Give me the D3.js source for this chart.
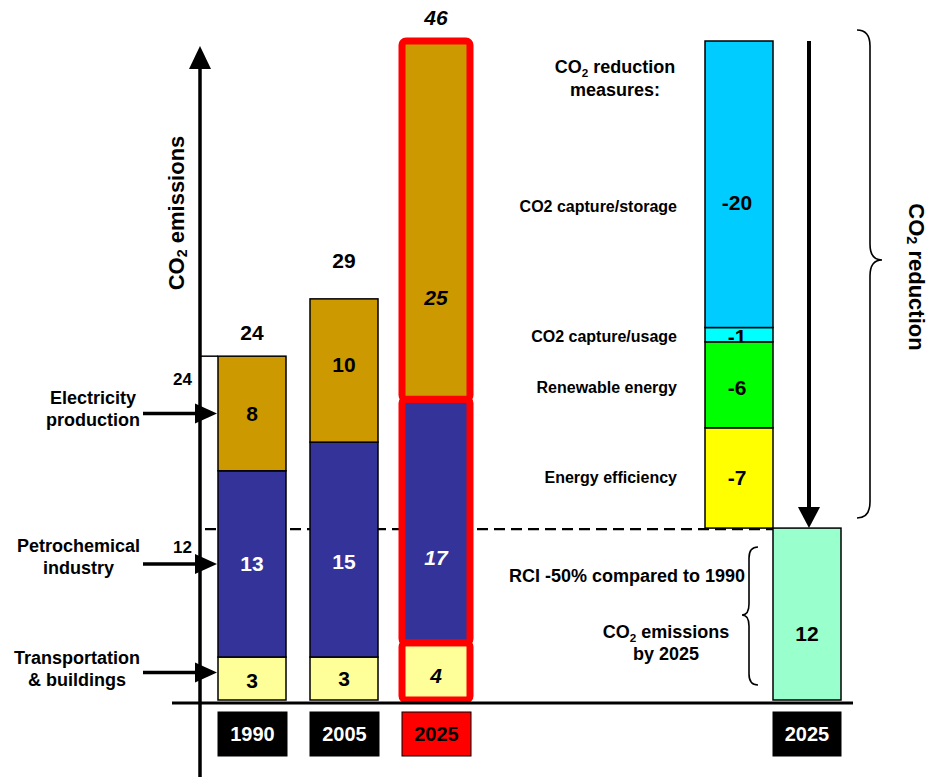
<!DOCTYPE html>
<html>
<head>
<meta charset="utf-8">
<script src="https://cdn.jsdelivr.net/npm/d3@7"></script>
<style>
  body { margin: 0; background: #fff; }
  svg { display: block; font-family: "Liberation Sans", Arial, Helvetica, sans-serif; font-weight: bold; }
</style>
</head>
<body>
<svg id="chart" width="928" height="777"></svg>
<script>
// ---- data ----
const years = ["1990", "2005", "2025"];
const transport = [3, 3, 4];
const petrochemical = [13, 15, 17];
const electricity = [8, 10, 25];
const totals = [24, 29, 46];
const sectorNames = ["Transportation & buildings", "Petrochemical industry", "Electricity production"];
const measureNames = ["Energy efficiency", "Renewable energy", "CO2 capture/usage", "CO2 capture/storage"];
const reductions = [-7, -6, -1, -20];
const target2025 = 12;
const targetYear = "2025";
const yTicks = [12, 24];

// ---- layout ----
const svg = d3.select("#chart");
const y = d3.scaleLinear().domain([0, 46]).range([700, 41]);
const x = d3.scaleBand().domain(years).range([206, 482]).paddingInner(24 / 92).paddingOuter(12 / 92);
const xr = d3.scaleBand().domain(["measures", "target"]).range([705, 841]).padding(0);
const axisX = 200;
const highlightYear = "2025";

const keys = ["transport", "petrochemical", "electricity"];
const fills = { transport: "#FFFF99", petrochemical: "#333399", electricity: "#CC9900" };
const inkColor = { transport: "#000", petrochemical: "#fff", electricity: "#000" };
const measureFills = ["#FFFF00", "#00FF00", "#00FFFF", "#00CCFF"];

const table = years.map((yr, i) => ({
  year: yr, transport: transport[i], petrochemical: petrochemical[i], electricity: electricity[i]
}));
const series = d3.stack().keys(keys)(table);

// helper: "CO2" with a subscript 2
function co2Text(sel, rest, fs) {
  sel.append("tspan").text("CO");
  sel.append("tspan").attr("font-size", fs * 0.65).attr("dy", fs * 0.25).text("2");
  sel.append("tspan").attr("dy", -fs * 0.25).text(rest);
  return sel;
}

// dashed target level (behind the bars)
svg.append("line")
  .attr("x1", axisX + 5).attr("x2", xr("target"))
  .attr("y1", y(target2025) + 1).attr("y2", y(target2025) + 1)
  .attr("stroke", "#000").attr("stroke-width", 2.2).attr("stroke-dasharray", "11,6");

// tick connector lines (the target level uses the dashed line)
yTicks.filter(t => t !== target2025).forEach(t => {
  svg.append("line").attr("x1", axisX).attr("x2", x(years[0]))
    .attr("y1", y(t)).attr("y2", y(t)).attr("stroke", "#000").attr("stroke-width", 1.5);
});

// stacked emission bars
const segLabelShift = { "2005|petrochemical": 12, "2005|electricity": -6, "2025|electricity": 77, "2025|petrochemical": 37, "2025|transport": 4, "1990|transport": 2 };
series.forEach(s => {
  s.forEach(d => {
    const yr = d.data.year;
    const hi = yr === highlightYear;
    svg.append("rect")
      .attr("x", x(yr)).attr("width", x.bandwidth())
      .attr("y", y(d[1])).attr("height", y(d[0]) - y(d[1]))
      .attr("fill", fills[s.key])
      .attr("stroke", hi ? "#FF0000" : "#000")
      .attr("stroke-width", hi ? 7 : 1.5)
      .attr("rx", hi ? 4 : 0);
  });
});
series.forEach(s => {
  s.forEach(d => {
    const yr = d.data.year;
    const hi = yr === highlightYear;
    svg.append("text")
      .attr("x", x(yr) + x.bandwidth() / 2)
      .attr("y", y((d[0] + d[1]) / 2) + (segLabelShift[yr + "|" + s.key] || 0))
      .attr("text-anchor", "middle").attr("dominant-baseline", "central")
      .attr("font-size", 21).attr("font-style", hi ? "italic" : "normal")
      .attr("fill", inkColor[s.key])
      .text(d.data[s.key]);
  });
});

// totals above bars
years.forEach((yr, i) => {
  svg.append("text")
    .attr("x", x(yr) + x.bandwidth() / 2).attr("y", y(totals[i]) - 24)
    .attr("text-anchor", "middle").attr("dominant-baseline", "central")
    .attr("font-size", 21).attr("font-style", yr === highlightYear ? "italic" : "normal")
    .text(totals[i]);
});

// y axis with arrow
svg.append("line").attr("x1", axisX).attr("x2", axisX).attr("y1", 777).attr("y2", 66)
  .attr("stroke", "#000").attr("stroke-width", 3.5);
svg.append("path").attr("d", `M${axisX - 11},69L${axisX},46L${axisX + 11},69Z`).attr("fill", "#000");

const yAxis = svg.append("g").attr("transform", `translate(${axisX - 8},0)`)
  .call(d3.axisLeft(y).tickValues(yTicks).tickSize(0).tickPadding(0));
yAxis.select(".domain").remove();
yAxis.selectAll("text")
  .attr("font-family", "Liberation Sans, Arial, sans-serif").attr("font-weight", "bold")
  .attr("font-size", 17).attr("fill", "#000")
  .attr("dy", d => d === target2025 ? 24 : 28);

// axis title
co2Text(svg.append("text")
  .attr("transform", `translate(176,213) rotate(-90)`)
  .attr("text-anchor", "middle").attr("dominant-baseline", "central")
  .attr("font-size", 22), " emissions", 22);

// sector labels and arrows into the first bar
const barLeft = x(years[0]);
const arrowStartX = 143;
const arrowShift = { transport: -6 };
const sectorTextShift = { petrochemical: -3 };
series.forEach((s, i) => {
  const d = s[0];
  const ay = y((d[0] + d[1]) / 2) + (arrowShift[s.key] || 0);
  svg.append("line").attr("x1", arrowStartX).attr("x2", barLeft - 20)
    .attr("y1", ay).attr("y2", ay).attr("stroke", "#000").attr("stroke-width", 3.5);
  svg.append("path").attr("d", `M${barLeft - 23},${ay - 10}L${barLeft - 1},${ay}L${barLeft - 23},${ay + 10}Z`)
    .attr("fill", "#000");
  const name = sectorNames[i];
  const sp = name.indexOf(" ");
  const lines = [name.slice(0, sp), name.slice(sp + 1)];
  const ty = ay + (sectorTextShift[s.key] || 0);
  const ts = lines.map((l, j) => svg.append("text")
    .attr("y", ty + (j === 0 ? -15 : 7))
    .attr("text-anchor", "middle").attr("dominant-baseline", "central")
    .attr("font-size", 18).text(l));
  const wmax = d3.max(ts, t => t.node().getComputedTextLength());
  ts.forEach(t => t.attr("x", arrowStartX - 3 - wmax / 2));
});

// reduction measures stack, sitting on the target level
let acc = target2025;
const redSegs = reductions.map((r, i) => {
  const seg = { name: measureNames[i], value: r, y0: acc, y1: acc + Math.abs(r), fill: measureFills[i] };
  acc += Math.abs(r);
  return seg;
});
const measureLabelShift = { "CO2 capture/storage": 18, "CO2 capture/usage": 2, "Renewable energy": 3 };
const measureNameShift = { "CO2 capture/storage": 4 };
const defs = svg.append("defs");
redSegs.forEach((s, i) => {
  svg.append("rect")
    .attr("x", xr("measures")).attr("width", xr.bandwidth())
    .attr("y", y(s.y1)).attr("height", y(s.y0) - y(s.y1))
    .attr("fill", s.fill).attr("stroke", "#000").attr("stroke-width", 1.5);
  defs.append("clipPath").attr("id", "mclip" + i).append("rect")
    .attr("x", xr("measures")).attr("width", xr.bandwidth())
    .attr("y", y(s.y1)).attr("height", y(s.y0) - y(s.y1));
  const ly = y((s.y0 + s.y1) / 2) + (measureLabelShift[s.name] || 0);
  svg.append("text")
    .attr("clip-path", `url(#mclip${i})`)
    .attr("x", xr("measures") + xr.bandwidth() / 2 - 2).attr("y", ly)
    .attr("text-anchor", "middle").attr("dominant-baseline", "central")
    .attr("font-size", 21).text(s.value);
  svg.append("text")
    .attr("x", 677).attr("y", ly + (measureNameShift[s.name] || 0))
    .attr("text-anchor", "end").attr("dominant-baseline", "central")
    .attr("font-size", 16).text(s.name);
});

// target bar
svg.append("rect")
  .attr("x", xr("target")).attr("width", xr.bandwidth())
  .attr("y", y(target2025)).attr("height", y(0) - y(target2025))
  .attr("fill", "#99FFCC").attr("stroke", "#000").attr("stroke-width", 1.5);
svg.append("text")
  .attr("x", xr("target") + xr.bandwidth() / 2).attr("y", y(target2025 / 2) + 19)
  .attr("text-anchor", "middle").attr("dominant-baseline", "central")
  .attr("font-size", 21).text(target2025);

// downward reduction arrow
const ax = xr("target") + xr.bandwidth() / 2 + 2;
svg.append("line").attr("x1", ax).attr("x2", ax).attr("y1", y(d3.max(totals))).attr("y2", y(target2025) - 18)
  .attr("stroke", "#000").attr("stroke-width", 4);
svg.append("path").attr("d", `M${ax - 11},${y(target2025) - 21}L${ax},${y(target2025)}L${ax + 11},${y(target2025) - 21}Z`)
  .attr("fill", "#000");

// baseline
svg.append("line").attr("x1", 172).attr("x2", 853).attr("y1", y(0) + 3).attr("y2", y(0) + 3)
  .attr("stroke", "#000").attr("stroke-width", 3);

// year boxes
const yearBoxes = years.map(yr => ({ label: yr, x0: x(yr), w: x.bandwidth() + 1, hi: yr === highlightYear }))
  .concat([{ label: targetYear, x0: xr("target"), w: xr.bandwidth(), hi: false }]);
yearBoxes.forEach(b => {
  svg.append("rect").attr("x", b.x0).attr("y", 712).attr("width", b.w).attr("height", 44)
    .attr("fill", b.hi ? "#FF0000" : "#000").attr("stroke", "#000").attr("stroke-width", 1);
  svg.append("text").attr("x", b.x0 + b.w / 2).attr("y", 734)
    .attr("text-anchor", "middle").attr("dominant-baseline", "central")
    .attr("font-size", 20).attr("fill", b.hi ? "#000" : "#fff").text(b.label);
});

// annotations on the right
co2Text(svg.append("text").attr("x", 615).attr("y", 67)
  .attr("text-anchor", "middle").attr("dominant-baseline", "central").attr("font-size", 18), " reduction", 18);
svg.append("text").attr("x", 615).attr("y", 90)
  .attr("text-anchor", "middle").attr("dominant-baseline", "central").attr("font-size", 18).text("measures:");

svg.append("text").attr("x", 745).attr("y", 576)
  .attr("text-anchor", "end").attr("dominant-baseline", "central").attr("font-size", 18)
  .text("RCI -50% compared to 1990");
co2Text(svg.append("text").attr("x", 666).attr("y", 632)
  .attr("text-anchor", "middle").attr("dominant-baseline", "central").attr("font-size", 18), " emissions", 18);
svg.append("text").attr("x", 666).attr("y", 654)
  .attr("text-anchor", "middle").attr("dominant-baseline", "central").attr("font-size", 18).text("by 2025");

// braces
svg.append("path")
  .attr("d", "M857,30 Q870,30 870,46 L870,244 Q870,260 882,260 Q870,260 870,276 L870,502 Q870,518 857,518")
  .attr("fill", "none").attr("stroke", "#000").attr("stroke-width", 1.6);
svg.append("path")
  .attr("d", "M758,547 Q749,547 749,558 L749,604 Q749,615 742,615 Q749,615 749,626 L749,674 Q749,685 758,685")
  .attr("fill", "none").attr("stroke", "#000").attr("stroke-width", 1.6);

co2Text(svg.append("text")
  .attr("transform", `translate(917,277) rotate(90)`)
  .attr("text-anchor", "middle").attr("dominant-baseline", "central")
  .attr("font-size", 22), " reduction", 22);
</script>
</body>
</html>
